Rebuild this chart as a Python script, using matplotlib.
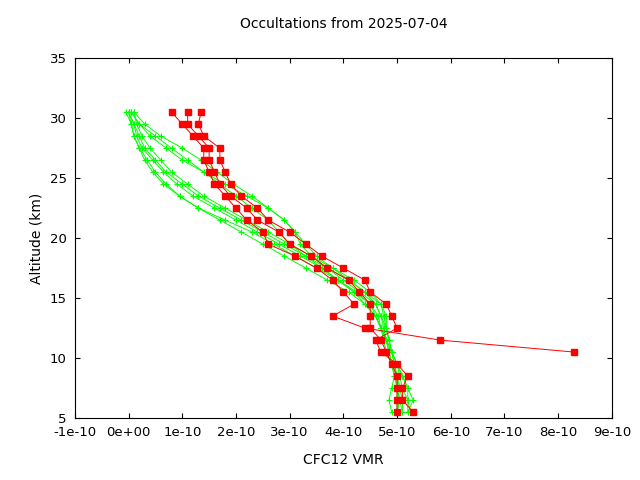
import matplotlib
matplotlib.use("Agg")
import matplotlib.pyplot as plt

alt = [30.5,29.5,28.5,27.5,26.5,25.5,24.5,23.5,22.5,21.5,20.5,19.5,18.5,17.5,16.5,15.5,14.5,13.5,12.5,11.5,10.5,9.5,8.5,7.5,6.5,5.5]

green = [
 [-0.05,0.05,0.1,0.2,0.35,0.5,0.7,0.95,1.3,1.7,2.1,2.5,2.9,3.3,3.7,4.1,4.4,4.6,4.7,4.8,4.9,4.95,5.0,5.05,5.1,5.1],
 [0.0,0.1,0.15,0.25,0.45,0.65,0.9,1.2,1.6,2.0,2.4,2.8,3.2,3.6,3.9,4.2,4.5,4.6,4.7,4.8,4.85,4.9,5.0,5.0,5.05,5.1],
 [0.05,0.2,0.5,0.8,1.1,1.4,1.7,2.0,2.3,2.6,2.8,3.0,3.3,3.6,3.9,4.2,4.4,4.6,4.7,4.75,4.8,4.9,4.95,5.0,5.0,5.0],
 [0.1,0.3,0.6,1.0,1.35,1.65,1.95,2.3,2.6,2.9,3.1,3.2,3.4,3.7,4.0,4.3,4.6,4.7,4.8,4.85,4.9,5.0,5.05,5.1,5.2,5.2],
 [0.0,0.1,0.2,0.3,0.5,0.7,1.0,1.3,1.7,2.1,2.5,2.9,3.3,3.7,4.1,4.4,4.6,4.7,4.75,4.8,4.9,5.0,5.1,5.2,5.2,5.25],
 [0.05,0.2,0.4,0.7,1.0,1.4,1.8,2.2,2.6,2.9,3.1,3.3,3.5,3.8,4.1,4.4,4.7,4.8,4.8,4.85,4.9,5.0,5.1,5.2,5.3,5.2],
 [0.1,0.15,0.25,0.4,0.6,0.8,1.1,1.4,1.8,2.2,2.6,3.0,3.4,3.8,4.2,4.5,4.7,4.75,4.8,4.85,4.9,4.95,5.0,5.0,5.05,5.0],
 [0.0,0.05,0.1,0.2,0.3,0.45,0.65,0.95,1.3,1.8,2.3,2.7,3.1,3.5,3.9,4.25,4.5,4.65,4.7,4.8,4.85,4.9,4.95,4.9,4.85,4.9],
]

red = [
 [1.1,1.1,1.3,1.5,1.5,1.6,1.7,1.9,2.2,2.4,2.8,3.0,3.4,3.7,4.1,4.3,4.5,4.5,4.5,4.7,4.8,4.9,5.0,5.0,5.0,5.0],
 [0.8,1.0,1.2,1.4,1.4,1.5,1.6,1.8,2.0,2.2,2.5,2.6,3.1,3.5,3.8,4.0,4.2,3.8,4.4,5.8,8.3],
 [1.35,1.3,1.4,1.7,1.7,1.8,1.9,2.1,2.4,2.6,3.0,3.3,3.6,4.0,4.4,4.5,4.8,4.9,5.0,4.6,4.7,5.0,5.2,5.1,5.1,5.3],
]

fig, ax = plt.subplots(figsize=(6.4, 4.8), dpi=100)
fig.subplots_adjust(left=0.117, right=0.956, top=0.879, bottom=0.129)
for g in green:
    ax.plot([v*1e-10 for v in g], alt[:len(g)], color="#00ff00", lw=0.7, marker="+", ms=5, mew=0.8)
for r in red:
    ax.plot([v*1e-10 for v in r], alt[:len(r)], color="#ff0000", lw=0.7, marker="s", ms=5)
ax.set_xlim(-1e-10, 9e-10)
ax.set_ylim(5, 35)
xt = [i*1e-10 for i in range(-1, 10)]
ax.set_xticks(xt)
ax.set_xticklabels(["-1e-10", "0e+00"] + [f"{i}e-10" for i in range(1, 10)])
ax.set_yticks(range(5, 36, 5))
ax.tick_params(direction="in", top=True, right=True, labelsize=9.5, pad=6)
ax.set_xlabel("CFC12 VMR", fontsize=10, labelpad=10)
ax.set_ylabel("Altitude (km)", fontsize=10)
ax.set_title("Occultations from 2025-07-04", fontsize=10, pad=22)
fig.savefig("out.png")
